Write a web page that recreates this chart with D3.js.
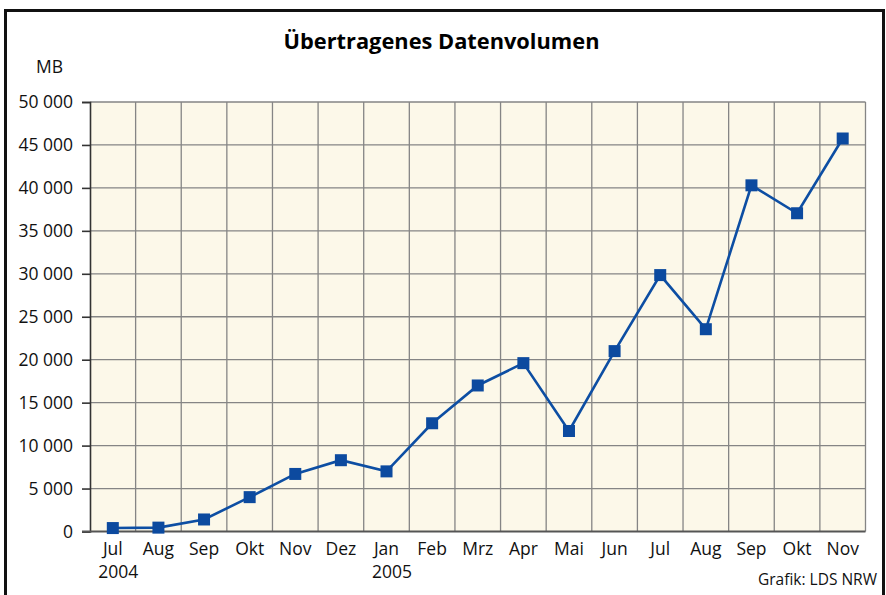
<!DOCTYPE html>
<html>
<head>
<meta charset="utf-8">
<script src="https://cdn.jsdelivr.net/npm/d3@7"></script>
<style>
  html, body { margin: 0; padding: 0; background: #fff; }
  svg { display: block; font-family: "Open Sans", "Noto Sans", sans-serif; }
</style>
</head>
<body>
<svg id="chart" width="886" height="595"></svg>
<script>
// Monthly transferred data volume (MB), July 2004 – November 2005
const months = ["Jul", "Aug", "Sep", "Okt", "Nov", "Dez", "Jan", "Feb", "Mrz", "Apr", "Mai", "Jun", "Jul", "Aug", "Sep", "Okt", "Nov"];
const years = ["2004", "", "", "", "", "", "2005", "", "", "", "", "", "", "", "", "", ""];
const volumeMB = [400, 450, 1400, 4000, 6700, 8300, 7000, 12600, 17000, 19600, 11700, 21000, 29850, 23550, 40300, 37050, 45750];
const yTicks = [0, 5000, 10000, 15000, 20000, 25000, 30000, 35000, 40000, 45000, 50000];

const svg = d3.select("#chart");
const plot = { left: 90, right: 865.5, top: 102, bottom: 531.5 };
const labelSize = 17.5;

// Outer frame
svg.append("path")
  .attr("d", `M5.5,600 L5.5,10.5 L883.5,10.5 L883.5,600`)
  .attr("fill", "none").attr("stroke", "#111").attr("stroke-width", 3);

const x = d3.scaleBand().domain(d3.range(months.length)).range([plot.left, plot.right]);
const y = d3.scaleLinear().domain([0, 50000]).range([plot.bottom, plot.top]);

// Plot background
svg.append("rect")
  .attr("x", plot.left).attr("y", plot.top)
  .attr("width", plot.right - plot.left).attr("height", plot.bottom - plot.top)
  .attr("fill", "#fcf8e9");

// Grid lines
const grid = svg.append("g").attr("stroke", "#858585").attr("stroke-width", 1.3);
grid.selectAll("line.h").data(yTicks.slice(1)).join("line")
  .attr("x1", plot.left).attr("x2", plot.right)
  .attr("y1", d => y(d)).attr("y2", d => y(d));
grid.selectAll("line.v").data(d3.range(1, months.length + 1)).join("line")
  .attr("x1", i => plot.left + i * x.step()).attr("x2", i => plot.left + i * x.step())
  .attr("y1", plot.top).attr("y2", plot.bottom);

// Y axis
const yAxis = svg.append("g").attr("transform", `translate(${plot.left},0)`)
  .call(d3.axisLeft(y).tickValues(yTicks).tickSize(8).tickPadding(9)
    .tickFormat(d => d3.format(",")(d).replace(/,/g, " ")));
yAxis.select(".domain").attr("stroke", "#333").attr("stroke-width", 1.6);
yAxis.selectAll(".tick line").attr("stroke", "#333").attr("stroke-width", 1.6);
yAxis.selectAll("text").attr("font-size", labelSize).attr("fill", "#111")
  .attr("font-family", "'Open Sans', 'Noto Sans', sans-serif");

// X axis baseline
svg.append("line")
  .attr("x1", plot.left - 8).attr("x2", plot.right)
  .attr("y1", plot.bottom).attr("y2", plot.bottom)
  .attr("stroke", "#555").attr("stroke-width", 2.2);

// Month labels
svg.append("g").selectAll("text").data(months).join("text")
  .attr("x", (d, i) => x(i) + x.bandwidth() / 2)
  .attr("y", 555)
  .attr("text-anchor", "middle").attr("font-size", labelSize).attr("fill", "#111")
  .text(d => d);

// Year labels under the first month of each year
svg.append("g").selectAll("text").data(years.map((yr, i) => ({ yr, i })).filter(d => d.yr)).join("text")
  .attr("x", d => x(d.i) + x.bandwidth() / 2 - 14.5)
  .attr("y", 578)
  .attr("font-size", labelSize).attr("fill", "#111")
  .text(d => d.yr);

// Unit label
svg.append("text").attr("x", 36).attr("y", 73)
  .attr("font-size", labelSize).attr("fill", "#111").text("MB");

// Title
svg.append("text").attr("x", 441.5).attr("y", 49)
  .attr("text-anchor", "middle").attr("font-size", 21.8).attr("font-weight", "bold").attr("fill", "#000")
  .text("Übertragenes Datenvolumen");

// Source
svg.append("text").attr("x", 877).attr("y", 585)
  .attr("text-anchor", "end").attr("font-size", 15.5).attr("fill", "#111")
  .text("Grafik: LDS NRW");

// Data line and markers
const cx = i => x(i) + x.bandwidth() / 2;
svg.append("path").datum(volumeMB)
  .attr("d", d3.line().x((d, i) => cx(i)).y(d => y(d)))
  .attr("fill", "none").attr("stroke", "#0d4ea3").attr("stroke-width", 2.6);

svg.append("g").selectAll("rect").data(volumeMB).join("rect")
  .attr("x", (d, i) => cx(i) - 6).attr("y", d => y(d) - 6)
  .attr("width", 12).attr("height", 12)
  .attr("fill", "#0c4a9f");
</script>
</body>
</html>
